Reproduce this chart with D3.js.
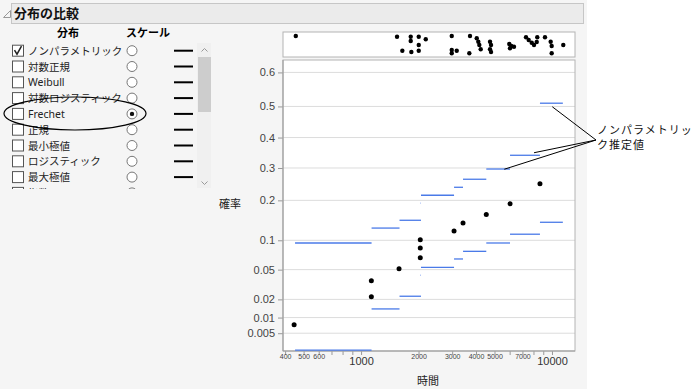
<!DOCTYPE html>
<html>
<head>
<meta charset="utf-8">
<script src="https://cdn.jsdelivr.net/npm/d3@7"></script>
<style>
    body { margin: 0; background: #fff; }
    svg { font-family: "Noto Sans", "Noto Sans CJK JP", sans-serif; }
</style>
</head>
<body>
<svg id="chart" width="699" height="389"></svg>
<script>
// distribution list on the left
var distributions = ["ノンパラメトリック", "対数正規", "Weibull", "対数ロジスティック", "Frechet",
    "正規", "最小極値", "ロジスティック", "最大極値", "指数"]
var checked = [true, false, false, false, false, false, false, false, false, false]
var scaleIndex = 4

// failure points on the Frechet probability scale
var pointTimes = [446, 1132, 1132, 1581, 2042, 2042, 2042, 3069, 3420, 4528, 6029, 8650]
var pointProbs = [0.0074, 0.0219, 0.0366, 0.0513, 0.0678, 0.0848, 0.1012, 0.120, 0.139, 0.161, 0.190, 0.250]

// nonparametric estimate bands (step segments)
var stepEdges = [451, 1135, 1590, 2060, 3069, 3420, 4528, 6029, 8650, 11400]
var upperBand = [0.0945, 0.127, 0.146, 0.215, 0.239, 0.264, 0.2967, 0.3416, 0.51]
var lowerBand = [0.0021, 0.0141, 0.0223, 0.0532, 0.0657, 0.0787, 0.0945, 0.113, 0.141]
var tinyStep = [2036, 2046]
var tinyBand = [0.0428, 0.192]

// raw data strip above the plot
var stripTimes = [455, 1543, 1645, 1820, 1820, 1834, 2005, 2005, 2005, 2182, 2985, 2985, 2985, 3170,
    3721, 3690, 4035, 4113, 4163, 4234, 4736, 4794, 4736, 4794, 5976, 6123, 6027, 6324, 7310, 7551,
    7830, 8051, 8375, 8318, 9192, 9845, 9964, 9964, 11460]
var stripJitter = [0.16, 0.19, 0.75, 0.19, 0.36, 0.80, 0.19, 0.52, 0.75, 0.29, 0.16, 0.72, 0.85, 0.75,
    0.16, 0.85, 0.25, 0.39, 0.52, 0.69, 0.39, 0.52, 0.69, 0.80, 0.48, 0.56, 0.65, 0.59, 0.21, 0.32,
    0.43, 0.52, 0.21, 0.40, 0.21, 0.39, 0.56, 0.85, 0.52]

var yTicks = [0.005, 0.01, 0.02, 0.05, 0.1, 0.2, 0.3, 0.4, 0.5, 0.6]
var xTicks = [400, 500, 600, 700, 800, 900, 1000, 2000, 3000, 4000, 5000, 6000, 7000, 8000, 9000, 10000]
var xSmallLabels = [400, 500, 600, 2000, 3000, 4000, 5000, 7000]
var xBigLabels = [1000, 10000]

// annotation anchors [time, prob]
var noteAnchors = [[10037, 0.499], [8054, 0.350], [5627, 0.296]]

var svg = d3.select("#chart")
var blue = "#4a7ae8"

// backgrounds
svg.append("rect").attr("width", 587).attr("height", 389).attr("fill", "#f5f5f5")
svg.append("rect").attr("x", 11.5).attr("y", 3.5).attr("width", 572).attr("height", 20)
    .attr("fill", "#ebebeb").attr("stroke", "#c6c6c6")
svg.append("path").attr("d", "M3.5,17.5 L10.5,17.5 L10.5,10.5 Z")
    .attr("fill", "none").attr("stroke", "#999")
svg.append("text").attr("x", 14).attr("y", 18).text("分布の比較")
    .style("font-size", "13px").style("font-weight", "bold").attr("fill", "#111")

// ---- left panel ----
var panel = svg.append("g")
panel.append("text").attr("x", 68).attr("y", 37).attr("text-anchor", "middle")
    .style("font-size", "11px").style("font-weight", "bold").text("分布")
panel.append("text").attr("x", 148).attr("y", 37).attr("text-anchor", "middle")
    .style("font-size", "11px").style("font-weight", "bold").text("スケール")

svg.append("clipPath").attr("id", "listClip").append("rect")
    .attr("x", 0).attr("y", 42).attr("width", 196).attr("height", 147)

var rowY = d3.scaleLinear().domain([0, 1]).range([50.7, 66.5])
var list = panel.append("g").attr("clip-path", "url(#listClip)")
var rows = list.selectAll("g.row").data(distributions).enter().append("g")
    .attr("class", "row")
    .attr("transform", function(d, i) { return "translate(0," + rowY(i) + ")" })

rows.append("rect").attr("x", 12.5).attr("y", -5.5).attr("width", 11).attr("height", 11)
    .attr("fill", "#fff").attr("stroke", "#555")
rows.filter(function(d, i) { return checked[i] })
    .append("path").attr("d", "M14.5,-0.5 L17,3.5 L21.5,-4.5")
    .attr("fill", "none").attr("stroke", "#222").attr("stroke-width", 1.5)
rows.append("text").attr("x", 28).attr("y", 4).style("font-size", "10.5px")
    .attr("fill", "#222").text(function(d) { return d })
rows.append("circle").attr("cx", 132).attr("cy", 0).attr("r", 5)
    .attr("fill", "#fff").attr("stroke", "#777")
rows.filter(function(d, i) { return i === scaleIndex })
    .append("circle").attr("cx", 132).attr("cy", 0).attr("r", 2.2).attr("fill", "#111")
rows.append("line").attr("x1", 174).attr("x2", 193).attr("stroke", "#000").attr("stroke-width", 2)

// scrollbar
panel.append("rect").attr("x", 197).attr("y", 43).attr("width", 14).attr("height", 145).attr("fill", "#f0f0f0")
panel.append("rect").attr("x", 198).attr("y", 57).attr("width", 13).attr("height", 55).attr("fill", "#cdcdcd")
panel.append("path").attr("d", "M201.5,51.5 L204.5,48.5 L207.5,51.5").attr("fill", "none").attr("stroke", "#999")
panel.append("path").attr("d", "M201.5,181.5 L204.5,184.5 L207.5,181.5").attr("fill", "none").attr("stroke", "#999")

// ellipse around Frechet
panel.append("ellipse").attr("cx", 75).attr("cy", 113.5).attr("rx", 71).attr("ry", 16.5)
    .attr("fill", "none").attr("stroke", "#000").attr("stroke-width", 1.2)

// ---- plot ----
var plotLeft = 283, plotRight = 575, plotTop = 60, plotBottom = 351
var x = d3.scaleLog().domain([390, 13200]).range([plotLeft, plotRight])
var frechet = function(p) { return -Math.log(-Math.log(p)) }
var yLin = d3.scaleLinear().domain([-1.827, 0.783]).range([plotBottom, plotTop])
var y = function(p) { return yLin(frechet(p)) }

// strip
var stripTop = 32, stripH = 25
svg.append("rect").attr("x", plotLeft).attr("y", stripTop).attr("width", plotRight - plotLeft)
    .attr("height", stripH).attr("fill", "#fff").attr("stroke", "#b4b4b4")
svg.append("g").selectAll("circle").data(stripTimes).enter().append("circle")
    .attr("cx", function(d) { return x(d) })
    .attr("cy", function(d, i) { return stripTop + stripJitter[i] * stripH })
    .attr("r", 2.2).attr("fill", "#000")

svg.append("rect").attr("x", plotLeft).attr("y", plotTop).attr("width", plotRight - plotLeft)
    .attr("height", plotBottom - plotTop).attr("fill", "#fff")

// grid
svg.append("g").selectAll("line").data(yTicks).enter().append("line")
    .attr("x1", plotLeft).attr("x2", plotRight)
    .attr("y1", function(d) { return y(d) }).attr("y2", function(d) { return y(d) })
    .attr("stroke", "#dcdcdc")

// y axis
var yAxis = svg.append("g").attr("transform", "translate(" + plotLeft + ",0)")
    .call(d3.axisLeft(yLin).tickValues(yTicks.map(frechet)).tickSize(5).tickPadding(3)
        .tickFormat(function(d, i) { return yTicks[i] }))
yAxis.select(".domain").remove()
yAxis.selectAll("line").attr("stroke", "#999")
yAxis.selectAll("text").style("font-size", "11px").style("font-family", "inherit").attr("fill", "#444")

// x axis ticks and labels
var xAxis = svg.append("g").attr("transform", "translate(0," + plotBottom + ")")
    .call(d3.axisBottom(x).tickValues(xTicks).tickSize(4).tickFormat(""))
xAxis.select(".domain").remove()
xAxis.selectAll("line").attr("stroke", "#999")

var xSmall = svg.append("g").attr("transform", "translate(0," + plotBottom + ")")
    .call(d3.axisBottom(x).tickValues(xSmallLabels).tickSize(0).tickPadding(3)
        .tickFormat(d3.format("d")))
xSmall.select(".domain").remove()
xSmall.selectAll("text").style("font-size", "7px").style("font-family", "inherit").attr("fill", "#444")

var xBig = svg.append("g").attr("transform", "translate(0," + plotBottom + ")")
    .call(d3.axisBottom(x).tickValues(xBigLabels).tickSize(0).tickPadding(6)
        .tickFormat(d3.format("d")))
xBig.select(".domain").remove()
xBig.selectAll("text").style("font-size", "11px").style("font-family", "inherit").attr("fill", "#333")

// plot frame
svg.append("rect").attr("x", plotLeft).attr("y", plotTop).attr("width", plotRight - plotLeft)
    .attr("height", plotBottom - plotTop).attr("fill", "none").attr("stroke", "#b4b4b4")
svg.append("line").attr("x1", plotLeft).attr("x2", plotLeft).attr("y1", plotTop).attr("y2", plotBottom)
    .attr("stroke", "#999")
svg.append("line").attr("x1", plotLeft).attr("x2", plotRight).attr("y1", plotBottom).attr("y2", plotBottom)
    .attr("stroke", "#999")

// band segments
var segs = []
upperBand.forEach(function(u, i) {
    segs.push({ a: stepEdges[i], b: stepEdges[i + 1], p: u })
    segs.push({ a: stepEdges[i], b: stepEdges[i + 1], p: lowerBand[i] })
})
tinyBand.forEach(function(p) { segs.push({ a: tinyStep[0], b: tinyStep[1], p: p }) })

svg.append("g").selectAll("line").data(segs).enter().append("line")
    .attr("x1", function(d) { return x(d.a) }).attr("x2", function(d) { return x(d.b) })
    .attr("y1", function(d) { return y(d.p) }).attr("y2", function(d) { return y(d.p) })
    .attr("stroke", blue).attr("stroke-width", 1.3)

// points
svg.append("g").selectAll("circle").data(pointTimes).enter().append("circle")
    .attr("cx", function(d) { return x(d) })
    .attr("cy", function(d, i) { return y(pointProbs[i]) })
    .attr("r", 2.5).attr("fill", "#000")

// axis titles
svg.append("text").attr("x", 230).attr("y", 208).attr("text-anchor", "middle")
    .style("font-size", "11px").attr("fill", "#222").text("確率")
svg.append("text").attr("x", 428).attr("y", 385).attr("text-anchor", "middle")
    .style("font-size", "11px").attr("fill", "#222").text("時間")

// annotation
var hub = [596, 140]
svg.append("g").selectAll("line").data(noteAnchors).enter().append("line")
    .attr("x1", function(d) { return x(d[0]) }).attr("y1", function(d) { return y(d[1]) })
    .attr("x2", hub[0]).attr("y2", hub[1])
    .attr("stroke", "#000").attr("stroke-width", 1)
var note = svg.append("text").style("font-size", "11px").style("letter-spacing", "1px").attr("fill", "#111")
note.append("tspan").attr("x", 597).attr("y", 134).text("ノンパラメトリッ")
note.append("tspan").attr("x", 597).attr("y", 149).text("ク推定値")
</script>
</body>
</html>
